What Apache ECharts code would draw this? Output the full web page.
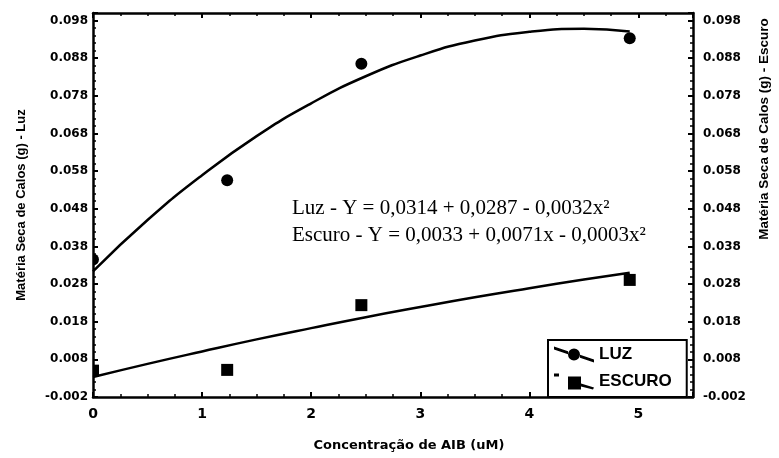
<!DOCTYPE html>
<html><head><meta charset="utf-8">
<script src="https://cdn.jsdelivr.net/npm/echarts@6/dist/echarts.min.js"></script>
<style>html,body{margin:0;padding:0;background:#fff}#c{width:779px;height:458px}</style>
</head><body><div id="c"></div>
<script>
const xTickLabels = ['0', '1', '2', '3', '4', '5'];
const yTickLabels = ['-0.002', '0.008', '0.018', '0.028', '0.038', '0.048', '0.058', '0.068', '0.078', '0.088', '0.098'];

const pointX = [0, 1.23, 2.46, 4.92];
const luzY = [0.0345, 0.0556, 0.0865, 0.0933];
const escuroY = [0.0050, 0.0052, 0.0224, 0.0291];

const curveX = [0, 0.5, 1, 1.5, 2, 2.5, 3, 3.5, 4, 4.5, 4.92];
const luzCurve = [0.0314, 0.0450, 0.0569, 0.0673, 0.0760, 0.0832, 0.0887, 0.0927, 0.0950, 0.0958, 0.0951];
const escuroCurve = [0.0033, 0.0068, 0.0101, 0.0133, 0.0163, 0.0192, 0.0219, 0.0245, 0.0269, 0.0292, 0.0310];

const legendNames = ['LUZ', 'ESCURO'];
const axisTitles = ['Concentração de AIB (uM)', 'Matéria Seca de Calos (g) - Luz', 'Matéria Seca de Calos (g) - Escuro'];
const equations = ['Luz - Y = 0,0314 + 0,0287 - 0,0032x²', 'Escuro - Y = 0,0033 + 0,0071x - 0,0003x²'];

const pair = (xs, ys) => xs.map((x, i) => [x, ys[i]]);
const fmtX = v => { const i = Math.round(v); return Math.abs(v - i) < 1e-6 && xTickLabels[i] !== undefined ? xTickLabels[i] : ''; };
const fmtY = v => { const s = v.toFixed(3); return yTickLabels.indexOf(s) >= 0 ? s : ''; };

const black = '#000';
const lineW = 2.5;
const markR = 6;
const tickStyle = { show: true, inside: true, length: 5, lineStyle: { color: black, width: 2 } };
const minorStyle = { show: true, length: 3, lineStyle: { color: black, width: 1.5 } };

const circleItem = (params, api) => {
  const p = api.coord([api.value(0), api.value(1)]);
  return { type: 'circle', shape: { cx: p[0], cy: p[1], r: markR }, style: { fill: black } };
};
const rectItem = (params, api) => {
  const p = api.coord([api.value(0), api.value(1)]);
  return { type: 'rect', shape: { x: p[0] - markR, y: p[1] - markR, width: 2 * markR, height: 2 * markR }, style: { fill: black } };
};

const chart = echarts.init(document.getElementById('c'), null, { renderer: 'canvas' });
chart.setOption({
  backgroundColor: '#fff',
  animation: false,
  grid: { left: 93, right: 86, top: 13, bottom: 61 },
  xAxis: [{
    type: 'value', position: 'bottom', min: 0, max: 5.5, interval: 1,
    name: axisTitles[0], nameLocation: 'middle', nameGap: 42,
    nameTextStyle: { fontFamily: 'DejaVu Sans', fontWeight: 'bold', fontSize: 13, color: black, padding: [0, 0, 0, 32] },
    axisLine: { show: true, onZero: false, lineStyle: { color: black, width: lineW } },
    axisTick: tickStyle,
    minorTick: Object.assign({ splitNumber: 4 }, minorStyle),
    splitLine: { show: false },
    axisLabel: { formatter: fmtX, fontFamily: 'DejaVu Sans', fontWeight: 'bold', fontSize: 14, color: black, margin: 10 }
  }, {
    type: 'value', position: 'top', min: 0, max: 5.5, interval: 1,
    axisLine: { show: true, onZero: false, lineStyle: { color: black, width: lineW } },
    axisTick: tickStyle,
    minorTick: Object.assign({ splitNumber: 4 }, minorStyle),
    splitLine: { show: false },
    axisLabel: { show: false }
  }],
  yAxis: [{
    type: 'value', position: 'left', min: -0.002, max: 0.1, interval: 0.01,
    name: axisTitles[1], nameLocation: 'middle', nameGap: 65,
    nameTextStyle: { fontFamily: 'Liberation Sans', fontWeight: 'bold', fontSize: 13, color: black },
    axisLine: { show: true, onZero: false, lineStyle: { color: black, width: lineW } },
    axisTick: tickStyle,
    minorTick: Object.assign({ splitNumber: 5 }, minorStyle),
    splitLine: { show: false },
    axisLabel: { formatter: fmtY, fontFamily: 'DejaVu Sans', fontWeight: 'bold', fontSize: 12, color: black, margin: 5 }
  }, {
    type: 'value', position: 'right', min: -0.002, max: 0.1, interval: 0.01,
    name: axisTitles[2], nameLocation: 'middle', nameGap: 62,
    nameTextStyle: { fontFamily: 'Liberation Sans', fontWeight: 'bold', fontSize: 13.5, color: black, padding: [0, 0, 0, 152] },
    axisLine: { show: true, onZero: false, lineStyle: { color: black, width: lineW } },
    axisTick: tickStyle,
    minorTick: Object.assign({ splitNumber: 5 }, minorStyle),
    splitLine: { show: false },
    axisLabel: { formatter: fmtY, fontFamily: 'DejaVu Sans', fontWeight: 'bold', fontSize: 12, color: black, margin: 10 }
  }],
  legend: {
    orient: 'vertical', left: 548, top: 340,
    padding: [6, 15, 7, 6], itemGap: 10, itemWidth: 40, itemHeight: 16,
    backgroundColor: '#fff', borderColor: black, borderWidth: 2, borderRadius: 0,
    textStyle: { fontFamily: 'Liberation Sans', fontWeight: 'bold', fontSize: 17, color: black },
    data: [
      { name: legendNames[0], icon: 'path://M0,0 L14,4.7 L14,7.7 L0,3 Z M26,8.3 L40,13 L40,16 L26,11.3 Z M14,8 A6,6 0 1,0 26,8 A6,6 0 1,0 14,8 Z' },
      { name: legendNames[1], icon: 'path://M0,0 L5,0 L5,3 L0,3 Z M14,3 L27,3 L27,10 L40,14 L39,16 L27,13 L27,16 L14,16 Z' }
    ],
    z: 10
  },
  series: [
    {
      name: legendNames[0] + ' curve', type: 'line', xAxisIndex: 0, yAxisIndex: 0,
      data: pair(curveX, luzCurve), smooth: true, showSymbol: false, symbol: 'none',
      lineStyle: { color: black, width: lineW }, silent: true
    },
    {
      name: legendNames[1] + ' curve', type: 'line', xAxisIndex: 0, yAxisIndex: 1,
      data: pair(curveX, escuroCurve), smooth: true, showSymbol: false, symbol: 'none',
      lineStyle: { color: black, width: lineW }, silent: true
    },
    {
      name: legendNames[0], type: 'custom', xAxisIndex: 0, yAxisIndex: 0,
      data: pair(pointX, luzY), renderItem: circleItem, clip: true,
      itemStyle: { color: black }
    },
    {
      name: legendNames[1], type: 'custom', xAxisIndex: 0, yAxisIndex: 1,
      data: pair(pointX, escuroY), renderItem: rectItem, clip: true,
      itemStyle: { color: black }
    }
  ],
  graphic: [
    { type: 'text', left: 292, top: 198, style: { text: equations[0], font: '21px "Liberation Serif"', fill: black } },
    { type: 'text', left: 292, top: 225, style: { text: equations[1], font: '21px "Liberation Serif"', fill: black } }
  ]
});
</script></body></html>
